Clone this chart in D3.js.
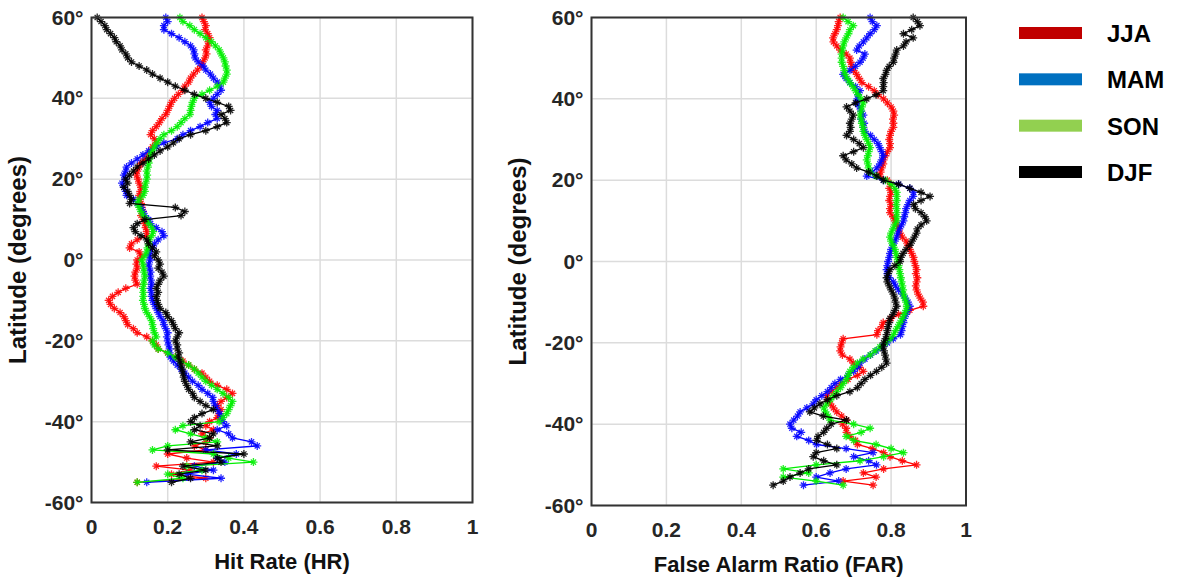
<!DOCTYPE html>
<html>
<head>
<meta http-equiv="Content-Type" content="text/html; charset=utf-8">
<script src="https://cdnjs.cloudflare.com/ajax/libs/d3/7.8.5/d3.min.js"></script>
<style>
  body { margin: 0; background: #fff; }
  svg text { font-family: "Liberation Sans", Arial, sans-serif; font-weight: bold; }
</style>
</head>
<body>
<div id="chart"></div>
<script type="text/javascript">

// ---------------------------------------------------------- DATA
// latitude bins, north to south (one value per degree)
var lats = d3.range(60, -56, -1);

// Hit Rate (left panel)
var hrJJA = [.29,.295,.3,.298,.305,.31,.307,.305,.3,.302,.298,.292,.288,.278,.268,.26,.255,.245,.24,.228,
  .218,.21,.205,.2,.195,.185,.178,.17,.16,.155,.165,.17,.16,.155,.148,.14,.13,.125,.12,.118,
  .122,.125,.13,.128,.125,.127,.13,.132,.135,.13,.136,.14,.142,.145,.145,.12,.105,.1,.125,.13,
  .12,.118,.12,.115,.113,.115,.12,.09,.07,.055,.045,.05,.06,.075,.085,.09,.095,.11,.12,.145,
  .16,.17,.175,.2,.22,.24,.255,.27,.29,.3,.31,.33,.355,.37,.355,.34,.33,.34,.335,.33,
  .31,.3,.32,.29,.31,.3,.27,.3,.2,.25,.32,.17,.26,.21,.3,.12];
var hrMAM = [.195,.2,.19,.19,.21,.23,.245,.26,.268,.27,.272,.28,.293,.3,.312,.32,.33,.337,.34,.33,
  .32,.31,.315,.33,.325,.33,.305,.285,.26,.24,.225,.19,.17,.15,.135,.12,.105,.092,.09,.085,
  .088,.08,.085,.09,.092,.11,.12,.13,.135,.14,.15,.155,.17,.185,.19,.175,.165,.16,.155,.152,
  .154,.15,.152,.155,.154,.156,.158,.155,.157,.158,.16,.165,.17,.175,.18,.188,.19,.195,.2,.198,
  .2,.202,.205,.205,.207,.215,.225,.235,.245,.255,.265,.28,.29,.305,.318,.32,.325,.33,.337,.34,
  .345,.355,.33,.36,.37,.42,.435,.3,.38,.33,.35,.27,.32,.25,.34,.145];
var hrSON = [.232,.24,.258,.27,.285,.3,.315,.325,.335,.34,.346,.35,.352,.355,.355,.35,.346,.33,.31,.29,
  .27,.265,.262,.26,.258,.245,.235,.225,.21,.19,.18,.172,.165,.16,.155,.152,.15,.148,.145,.146,
  .145,.142,.14,.14,.135,.125,.12,.125,.13,.136,.145,.15,.158,.162,.158,.152,.15,.147,.145,.14,
  .132,.135,.137,.138,.14,.138,.137,.135,.136,.136,.135,.138,.14,.145,.152,.158,.16,.162,.165,.17,
  .16,.165,.175,.2,.22,.235,.255,.27,.28,.29,.3,.315,.33,.345,.36,.37,.365,.36,.355,.345,
  .335,.24,.22,.26,.3,.33,.2,.16,.32,.36,.425,.25,.29,.2,.24,.12];
var hrDJF = [.015,.025,.035,.04,.05,.06,.065,.075,.08,.09,.095,.105,.125,.145,.16,.18,.2,.22,.245,.27,
  .3,.33,.36,.365,.34,.35,.355,.33,.3,.26,.23,.215,.2,.18,.165,.15,.135,.12,.11,.1,
  .09,.095,.085,.095,.1,.105,.1,.22,.245,.235,.14,.12,.11,.115,.13,.145,.15,.16,.17,.165,
  .175,.18,.175,.185,.19,.18,.175,.17,.175,.17,.172,.175,.18,.195,.2,.21,.215,.22,.23,.225,
  .22,.225,.225,.23,.228,.232,.235,.238,.24,.242,.245,.25,.255,.265,.27,.285,.3,.32,.29,.27,
  .26,.285,.27,.32,.31,.26,.33,.2,.4,.33,.34,.24,.3,.23,.26,.21];

// False Alarm Ratio (right panel)
var farJJA = [.664,.66,.658,.655,.65,.645,.646,.655,.664,.68,.69,.692,.695,.7,.708,.715,.722,.74,.755,.765,
  .78,.79,.8,.806,.808,.805,.806,.806,.8,.797,.795,.797,.797,.79,.785,.78,.779,.775,.772,.77,
  .79,.8,.795,.8,.797,.795,.8,.797,.797,.805,.81,.815,.82,.824,.83,.84,.845,.85,.855,.86,
  .862,.865,.868,.866,.87,.868,.866,.868,.872,.878,.885,.886,.85,.82,.8,.779,.775,.765,.762,.672,
  .668,.665,.664,.67,.69,.699,.715,.726,.71,.685,.665,.655,.64,.628,.632,.638,.646,.655,.668,.681,
  .67,.68,.681,.69,.705,.71,.75,.78,.797,.83,.868,.78,.726,.76,.672,.752];
var farMAM = [.744,.75,.762,.755,.744,.735,.726,.715,.708,.73,.725,.717,.705,.69,.672,.68,.69,.705,.717,.712,
  .71,.708,.715,.72,.726,.72,.728,.726,.73,.745,.755,.765,.77,.775,.779,.775,.77,.762,.75,.735,
  .78,.82,.85,.86,.859,.85,.845,.84,.838,.835,.833,.828,.822,.818,.815,.81,.805,.8,.797,.795,
  .792,.79,.788,.79,.795,.806,.812,.82,.83,.838,.845,.85,.845,.84,.835,.833,.83,.828,.825,.806,
  .79,.775,.76,.745,.73,.717,.71,.7,.685,.665,.65,.64,.63,.615,.6,.592,.575,.557,.55,.54,
  .53,.535,.56,.548,.58,.601,.68,.752,.7,.74,.761,.68,.637,.6,.66,.566];
var farSON = [.672,.685,.699,.69,.686,.68,.675,.672,.67,.668,.668,.668,.672,.675,.677,.683,.69,.698,.705,.712,
  .72,.726,.722,.72,.717,.72,.722,.725,.726,.73,.735,.74,.744,.74,.738,.735,.738,.74,.744,.76,
  .785,.8,.81,.815,.815,.815,.814,.815,.815,.815,.815,.81,.805,.8,.797,.8,.805,.81,.813,.815,
  .818,.82,.822,.824,.826,.828,.83,.832,.833,.836,.84,.842,.84,.835,.83,.824,.818,.812,.806,.797,
  .785,.77,.757,.744,.725,.71,.699,.69,.685,.681,.672,.665,.655,.646,.638,.628,.62,.625,.632,.637,
  .7,.744,.72,.68,.7,.76,.8,.833,.78,.717,.6,.512,.58,.512,.6,.672];
var farDJF = [.859,.87,.877,.855,.833,.859,.84,.833,.815,.812,.808,.806,.795,.788,.785,.779,.78,.779,.779,.76,
  .735,.705,.681,.69,.699,.695,.69,.692,.69,.681,.7,.715,.726,.7,.672,.68,.695,.708,.74,.762,
  .779,.82,.85,.88,.904,.88,.86,.865,.88,.89,.895,.88,.87,.868,.862,.856,.85,.84,.832,.826,
  .824,.81,.797,.792,.788,.79,.795,.8,.806,.81,.812,.815,.81,.805,.797,.795,.792,.79,.788,.785,
  .78,.779,.781,.784,.786,.788,.775,.761,.745,.73,.72,.71,.69,.655,.63,.61,.595,.583,.619,.681,
  .64,.628,.62,.605,.601,.63,.655,.6,.592,.62,.655,.58,.557,.53,.512,.485];

var seasons = ["JJA", "MAM", "SON", "DJF"];
var xTicks = [0, 0.2, 0.4, 0.6, 0.8, 1];
var yTicks = [60, 40, 20, 0, -20, -40, -60];

var lineColors = {JJA: "#ff0000", MAM: "#0000ff", SON: "#00ee00", DJF: "#000000"};
var legendColors = {JJA: "#c00000", MAM: "#0070c0", SON: "#92d050", DJF: "#000000"};

// ---------------------------------------------------------- SVG
var width = 1186;
var height = 581;

var svg = d3.select("#chart")
  .append("svg")
  .attr("width", width)
  .attr("height", height);

// plus + small x, like the matlab '*' marker
var markerPath = "M-4,0H4M0,-4V4M-2.6,-2.6L2.6,2.6M-2.6,2.6L2.6,-2.6";

function drawPanel(cfg) {
  var x = d3.scaleLinear().domain([0, 1]).range([cfg.left, cfg.right]);
  var y = d3.scaleLinear().domain([-60, 60]).range([cfg.bottom, cfg.top]);
  var g = svg.append("g");

  // grid
  g.selectAll(".vgrid").data(xTicks).enter().append("line")
    .attr("x1", d => x(d)).attr("x2", d => x(d))
    .attr("y1", cfg.top).attr("y2", cfg.bottom)
    .attr("stroke", "#dcdcdc").attr("stroke-width", 1.5);
  g.selectAll(".hgrid").data(yTicks).enter().append("line")
    .attr("x1", cfg.left).attr("x2", cfg.right)
    .attr("y1", d => y(d)).attr("y2", d => y(d))
    .attr("stroke", "#dcdcdc").attr("stroke-width", 1.5);

  // series
  var line = d3.line()
    .x(d => x(d[0]))
    .y(d => y(d[1]));

  seasons.forEach(function(s) {
    var pts = cfg.data[s].map((v, i) => [v, lats[i]]);
    var sg = g.append("g");
    sg.append("path")
      .attr("d", line(pts))
      .attr("fill", "none")
      .attr("stroke", lineColors[s])
      .attr("stroke-width", 1.3);
    sg.selectAll("path.mk").data(pts).enter().append("path")
      .attr("class", "mk")
      .attr("d", markerPath)
      .attr("transform", d => "translate(" + x(d[0]) + "," + y(d[1]) + ")")
      .attr("stroke", lineColors[s])
      .attr("stroke-opacity", 0.85)
      .attr("stroke-width", 1.3);
  });

  // frame
  g.append("rect")
    .attr("x", cfg.left).attr("y", cfg.top)
    .attr("width", cfg.right - cfg.left).attr("height", cfg.bottom - cfg.top)
    .attr("fill", "none").attr("stroke", "#333").attr("stroke-width", 2);

  // tick labels
  g.selectAll(".xt").data(xTicks).enter().append("text")
    .attr("x", d => x(d)).attr("y", cfg.bottom + 31)
    .attr("text-anchor", "middle")
    .attr("font-size", 21).attr("fill", "#262626")
    .text(d => d3.format("~g")(d));
  g.selectAll(".yt").data(yTicks).enter().append("text")
    .attr("x", cfg.left - 8).attr("y", d => y(d) + 7)
    .attr("text-anchor", "end")
    .attr("font-size", 21).attr("fill", "#262626")
    .text(d => d + "\u00b0");

  // axis titles
  g.append("text")
    .attr("x", (cfg.left + cfg.right) / 2).attr("y", cfg.bottom + 66)
    .attr("text-anchor", "middle").attr("font-size", 22).attr("fill", "#111")
    .text(cfg.xTitle);
  g.append("text")
    .attr("transform", "translate(" + (cfg.left - 66) + "," + ((cfg.top + cfg.bottom) / 2) + ") rotate(-90)")
    .attr("text-anchor", "middle").attr("font-size", 24).attr("fill", "#111")
    .text("Latitude (degrees)");
}

drawPanel({left: 91.5, right: 472.5, top: 17.5, bottom: 502.5, xTitle: "Hit Rate (HR)",
  data: {JJA: hrJJA, MAM: hrMAM, SON: hrSON, DJF: hrDJF}});
drawPanel({left: 591.5, right: 966, top: 17.5, bottom: 505.5, xTitle: "False Alarm Ratio (FAR)",
  data: {JJA: farJJA, MAM: farMAM, SON: farSON, DJF: farDJF}});

// ---------------------------------------------------------- LEGEND
var legendY = d3.scalePoint().domain(seasons).range([33, 172]);
var legend = svg.append("g");
legend.selectAll("rect").data(seasons).enter().append("rect")
  .attr("x", 1019).attr("y", d => legendY(d) - 6)
  .attr("width", 63).attr("height", 12)
  .attr("fill", d => legendColors[d]);
legend.selectAll("text").data(seasons).enter().append("text")
  .attr("x", 1107).attr("y", d => legendY(d) + 9)
  .attr("font-size", 24).attr("fill", "#000")
  .text(d => d);

</script>
</body>
</html>
